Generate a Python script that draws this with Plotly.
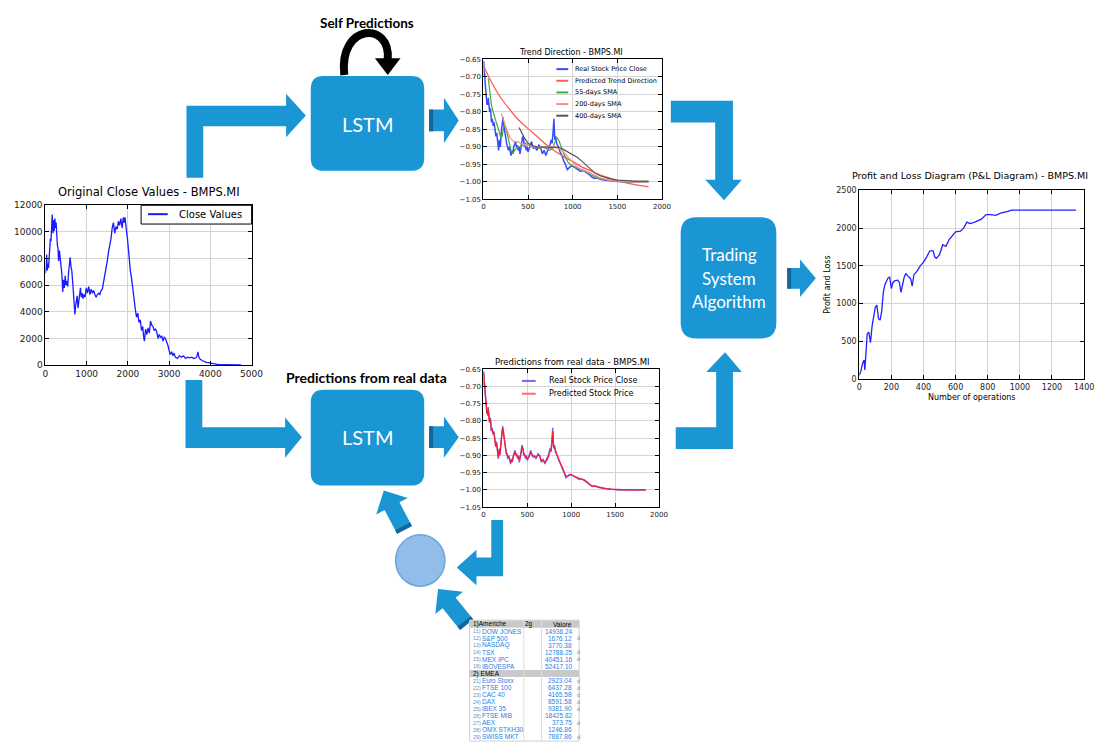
import plotly.graph_objects as go
import math

# ---------------- data ----------------
close_x = [0,15,30,45,60,75,90,105,120,135,150,165,175,185,200,215,230,245,260,275,290,305,320,340,360,380,400,420,440,460,480,500,520,540,560,580,600,620,640,660,680,700,715,730,750,770,790,810,830,850,870,890,910,930,960,990,1020,1050,1080,1110,1140,1170,1200,1230,1260,1290,1320,1350,1380,1410,1440,1470,1500,1530,1560,1590,1620,1650,1680,1710,1740,1770,1800,1830,1860,1890,1910,1930,1950,1970,1990,2010,2030,2060,2090,2120,2150,2180,2210,2240,2270,2300,2330,2360,2380,2400,2430,2460,2490,2520,2550,2580,2610,2640,2670,2700,2730,2760,2790,2820,2850,2880,2910,2940,2970,3000,3030,3060,3090,3120,3150,3200,3250,3300,3350,3400,3450,3500,3550,3600,3650,3680,3700,3720,3750,3800,3850,3900,3950,4000,4050,4100,4200,4300,4400,4500,4600,4750]
close_y = [6900,7300,8300,7100,7600,7300,8000,8600,9500,9300,10500,11300,10200,9900,10900,10100,11000,10300,10700,9600,9000,8800,7800,8600,7600,7400,6800,5500,6400,5800,6700,6000,6300,5900,6900,7800,8100,7400,7100,6300,5500,4800,3800,4400,5000,5200,4300,4700,5100,5800,5100,5400,5000,5300,5100,5800,5400,5900,5300,5700,5400,5600,5300,5100,5300,5400,5300,5600,5700,6200,6600,7200,7800,8500,8900,9500,10300,10700,9900,10400,10200,10800,10500,11000,10300,11100,10700,11100,10500,10100,9500,8800,8000,7100,6500,5600,4700,4200,3600,3900,3200,3400,2600,2900,2200,1800,2700,2300,2800,2400,3300,3000,2900,2600,2700,2500,2000,2300,2100,2200,1800,2100,2000,1800,1500,1100,800,1000,700,900,600,500,700,600,700,500,600,550,600,500,550,700,1000,600,450,350,250,200,180,150,100,60,40,30,25,20,15,10]

real_x = [0,5,10,15,20,25,30,35,40,45,50,55,60,70,80,90,100,110,120,130,140,150,160,170,180,190,200,210,220,230,240,250,260,270,280,290,300,310,320,330,340,350,360,370,380,390,400,410,420,430,440,450,460,470,480,490,500,520,540,560,580,600,620,640,660,680,700,720,740,760,770,780,790,800,810,820,840,860,880,900,920,940,960,980,1000,1030,1060,1090,1120,1150,1180,1210,1240,1270,1300,1350,1400,1450,1500,1550,1600,1650,1700,1750,1800,1850]
real_y = [-0.655,-0.66,-0.70,-0.69,-0.72,-0.74,-0.76,-0.75,-0.78,-0.77,-0.78,-0.76,-0.79,-0.80,-0.79,-0.83,-0.82,-0.84,-0.83,-0.86,-0.87,-0.86,-0.89,-0.91,-0.88,-0.90,-0.86,-0.83,-0.815,-0.84,-0.86,-0.88,-0.89,-0.90,-0.91,-0.90,-0.92,-0.925,-0.91,-0.92,-0.90,-0.89,-0.885,-0.90,-0.895,-0.91,-0.90,-0.92,-0.90,-0.89,-0.87,-0.88,-0.90,-0.895,-0.91,-0.90,-0.915,-0.90,-0.885,-0.905,-0.90,-0.91,-0.895,-0.90,-0.92,-0.91,-0.925,-0.91,-0.90,-0.88,-0.89,-0.86,-0.82,-0.88,-0.87,-0.89,-0.90,-0.915,-0.925,-0.94,-0.95,-0.965,-0.96,-0.955,-0.955,-0.96,-0.965,-0.97,-0.968,-0.972,-0.978,-0.985,-0.99,-0.988,-0.992,-0.995,-0.997,-0.998,-0.999,-1.0,-1.0,-1.0,-1.001,-1.001,-1.0,-1.0]
pred_y = [-0.66,-0.665,-0.695,-0.70,-0.715,-0.745,-0.755,-0.76,-0.775,-0.775,-0.785,-0.765,-0.785,-0.805,-0.795,-0.825,-0.825,-0.835,-0.835,-0.855,-0.875,-0.865,-0.885,-0.905,-0.885,-0.895,-0.865,-0.835,-0.82,-0.835,-0.855,-0.875,-0.895,-0.895,-0.905,-0.905,-0.915,-0.92,-0.915,-0.915,-0.905,-0.895,-0.89,-0.895,-0.90,-0.905,-0.905,-0.915,-0.905,-0.895,-0.875,-0.88,-0.895,-0.90,-0.905,-0.905,-0.91,-0.905,-0.89,-0.90,-0.905,-0.905,-0.90,-0.90,-0.915,-0.915,-0.92,-0.915,-0.905,-0.885,-0.885,-0.865,-0.83,-0.875,-0.875,-0.885,-0.90,-0.91,-0.925,-0.935,-0.95,-0.96,-0.96,-0.957,-0.956,-0.96,-0.963,-0.968,-0.969,-0.971,-0.977,-0.984,-0.989,-0.989,-0.991,-0.994,-0.996,-0.998,-0.999,-0.999,-1.0,-1.0,-1.0,-1.0,-1.0,-1.0]

trend_x = [0,100,200,300,400,500,600,700,800,900,1000,1100,1200,1300,1400,1500,1600,1700,1850]
trend_y = [-0.668,-0.72,-0.762,-0.795,-0.825,-0.848,-0.87,-0.893,-0.912,-0.928,-0.942,-0.957,-0.968,-0.979,-0.988,-0.996,-1.003,-1.008,-1.014]

sma55_x = [55,70,90,110,130,150,170,190,210,230,250,270,290,310,330,350,380,410,440,470,500,540,580,620,660,700,740,770,790,810,830,850,870,900,950,1000,1050,1100,1150,1200,1250,1300,1400,1500,1600,1700,1850]
sma55_y = [-0.705,-0.74,-0.78,-0.80,-0.82,-0.835,-0.85,-0.87,-0.87,-0.84,-0.845,-0.87,-0.89,-0.91,-0.92,-0.91,-0.90,-0.90,-0.895,-0.89,-0.895,-0.90,-0.90,-0.905,-0.90,-0.905,-0.91,-0.905,-0.895,-0.88,-0.875,-0.885,-0.90,-0.92,-0.945,-0.955,-0.96,-0.965,-0.97,-0.98,-0.986,-0.99,-0.995,-0.998,-1.0,-1.0,-1.0]

sma200_x = [200,230,260,300,340,380,420,460,500,560,620,680,740,800,850,900,950,1000,1050,1100,1150,1200,1300,1400,1500,1600,1700,1850]
sma200_y = [-0.805,-0.83,-0.85,-0.875,-0.885,-0.885,-0.89,-0.895,-0.895,-0.90,-0.90,-0.90,-0.90,-0.90,-0.905,-0.915,-0.93,-0.945,-0.958,-0.965,-0.97,-0.975,-0.988,-0.995,-0.998,-1.0,-1.0,-1.0]

sma400_x = [400,430,460,500,550,600,650,700,750,800,850,900,950,1000,1050,1100,1150,1200,1250,1300,1400,1500,1600,1700,1850]
sma400_y = [-0.845,-0.86,-0.875,-0.89,-0.897,-0.90,-0.90,-0.90,-0.90,-0.90,-0.902,-0.908,-0.915,-0.922,-0.93,-0.94,-0.952,-0.965,-0.975,-0.982,-0.99,-0.995,-0.997,-0.998,-0.998]

pnl_x = [0,10,20,30,35,40,50,60,70,80,90,100,110,120,130,140,150,160,170,180,190,200,210,220,240,250,260,280,290,300,320,330,340,360,380,400,420,440,460,470,480,500,520,540,560,580,600,630,650,670,690,720,760,790,820,850,880,920,950,1000,1100,1200,1350]
pnl_y = [50,100,200,250,120,300,600,620,480,700,820,950,980,800,780,900,1150,1250,1300,1340,1350,1200,1280,1300,1310,1280,1150,1350,1400,1370,1330,1230,1380,1430,1500,1550,1620,1700,1700,1620,1600,1650,1780,1760,1850,1900,1950,1960,2000,2080,2060,2080,2120,2180,2180,2170,2200,2220,2240,2240,2240,2240,2240]

ticks1_x = [0,1000,2000,3000,4000,5000]
ticks1_y = [0,2000,4000,6000,8000,10000,12000]
ticks2_x = [0,500,1000,1500,2000]
ticks2_y = [-1.05,-1.00,-0.95,-0.90,-0.85,-0.80,-0.75,-0.70,-0.65]
ticks4_x = [0,200,400,600,800,1000,1200,1400]
ticks4_y = [0,500,1000,1500,2000,2500]

tbl_am_names = ["DOW JONES","S&P 500","NASDAQ","TSX","MEX IPC","IBOVESPA"]
tbl_am_vals = ["14936.24","1676.12","3770.38","12788.25","40451.16","52417.10"]
tbl_am_d = ["","d","","d","d",""]
tbl_em_names = ["Euro Stoxx","FTSE 100","CAC 40","DAX","IBEX 35","FTSE MIB","AEX","OMX STKH30","SWISS MKT"]
tbl_em_vals = ["2923.04","6437.28","4165.58","8591.58","9381.90","18425.82","373.75","1246.86","7887.86"]
tbl_em_d = ["d","d","d","d","d","","d","","d"]

# ---------------- geometry helpers ----------------
W, H = 1105, 749
def fx(x): return x / W
def fy(y): return 1 - y / H
def pt(x, y): return f"{fx(x):.5f},{fy(y):.5f}"
def poly(pts): return "M " + " L ".join(pt(x, y) for x, y in pts) + " Z"
def rrect(x0, y0, x1, y1, r):
    return (f"M {pt(x0+r,y0)} L {pt(x1-r,y0)} Q {pt(x1,y0)} {pt(x1,y0+r)} "
            f"L {pt(x1,y1-r)} Q {pt(x1,y1)} {pt(x1-r,y1)} L {pt(x0+r,y1)} "
            f"Q {pt(x0,y1)} {pt(x0,y1-r)} L {pt(x0,y0+r)} Q {pt(x0,y0)} {pt(x0+r,y0)} Z")
def block_arrow(tail, tip, bw, hw, hl):
    dx, dy = tip[0]-tail[0], tip[1]-tail[1]
    L = math.hypot(dx, dy); ux, uy = dx/L, dy/L; nx, ny = -uy, ux
    bx, by = tip[0]-hl*ux, tip[1]-hl*uy
    pts = [(tail[0]+nx*bw/2, tail[1]+ny*bw/2), (bx+nx*bw/2, by+ny*bw/2),
           (bx+nx*hw/2, by+ny*hw/2), tip, (bx-nx*hw/2, by-ny*hw/2),
           (bx-nx*bw/2, by-ny*bw/2), (tail[0]-nx*bw/2, tail[1]-ny*bw/2)]
    return poly(pts)
def stripe(tail, tip, bw, t):
    dx, dy = tip[0]-tail[0], tip[1]-tail[1]
    L = math.hypot(dx, dy); ux, uy = dx/L, dy/L; nx, ny = -uy, ux
    e = (tail[0]+ux*t, tail[1]+uy*t)
    return poly([(tail[0]+nx*bw/2, tail[1]+ny*bw/2), (e[0]+nx*bw/2, e[1]+ny*bw/2),
                 (e[0]-nx*bw/2, e[1]-ny*bw/2), (tail[0]-nx*bw/2, tail[1]-ny*bw/2)])

BLUE = "#1b96d4"
DARK = "#12679a"
shapes, ann = [], []
def add_path(p, fill=BLUE, line=None, width=0):
    shapes.append(dict(type="path", path=p, xref="paper", yref="paper", fillcolor=fill,
                       line=dict(color=line or fill, width=width), layer="above"))
def text(x, y, s, size, color="black", family="DejaVu Sans", xanchor="center", bold=False, angle=0):
    if bold: s = f"<b>{s}</b>"
    ann.append(dict(x=fx(x), y=fy(y), xref="paper", yref="paper", text=s, showarrow=False,
                    xanchor=xanchor, yanchor="middle", textangle=angle,
                    font=dict(size=size, color=color, family=family)))

# ---------------- figure ----------------
fig = go.Figure()
fig.add_trace(go.Scatter(x=close_x, y=close_y, mode="lines", line=dict(color="#1a1aff", width=1.3), xaxis="x", yaxis="y"))
fig.add_trace(go.Scatter(x=real_x, y=real_y, mode="lines", line=dict(color="#3a4bff", width=1.5), xaxis="x2", yaxis="y2"))
fig.add_trace(go.Scatter(x=trend_x, y=trend_y, mode="lines", line=dict(color="#ff5a5a", width=1.3, shape="spline"), xaxis="x2", yaxis="y2"))
fig.add_trace(go.Scatter(x=sma55_x, y=sma55_y, mode="lines", line=dict(color="#3fae3f", width=1.2), xaxis="x2", yaxis="y2"))
fig.add_trace(go.Scatter(x=sma200_x, y=sma200_y, mode="lines", line=dict(color="#ff8a8a", width=1.2), xaxis="x2", yaxis="y2"))
fig.add_trace(go.Scatter(x=sma400_x, y=sma400_y, mode="lines", line=dict(color="#555555", width=1.2), xaxis="x2", yaxis="y2"))
fig.add_trace(go.Scatter(x=real_x, y=real_y, mode="lines", line=dict(color="#6a6aff", width=1.4), xaxis="x3", yaxis="y3"))
fig.add_trace(go.Scatter(x=real_x, y=pred_y, mode="lines", line=dict(color="#ff1a2a", width=1.3), xaxis="x3", yaxis="y3"))
fig.add_trace(go.Scatter(x=pnl_x, y=pnl_y, mode="lines", line=dict(color="#2020ff", width=1.3), xaxis="x4", yaxis="y4"))

def axis(dom, rng, tv, fs, anchor, fmt=None):
    d = dict(domain=dom, range=rng, tickvals=tv, anchor=anchor, showline=True, linecolor="black",
             linewidth=1, mirror="ticks", ticks="inside", ticklen=4, tickcolor="black",
             showgrid=True, gridcolor="#d4d4d4", gridwidth=1, zeroline=False,
             tickfont=dict(size=fs, color="#222", family="DejaVu Sans"))
    if fmt: d["tickformat"] = fmt
    return d

lay = dict(width=W, height=H, margin=dict(l=0, r=0, t=0, b=0), paper_bgcolor="white",
           plot_bgcolor="white", showlegend=False)
lay["xaxis"] = axis([fx(43), fx(252)], [0, 5000], ticks1_x, 9, "y", "d")
lay["yaxis"] = axis([fy(365), fy(203)], [0, 12000], ticks1_y, 9, "x", "d")
lay["xaxis2"] = axis([fx(487), fx(668)], [0, 2000], ticks2_x, 7, "y2", "d")
lay["yaxis2"] = axis([fy(197), fy(55)], [-1.05, -0.65], ticks2_y, 7, "x2", ".2f")
lay["xaxis3"] = axis([fx(487), fx(665)], [0, 2000], ticks2_x, 7, "y3", "d")
lay["yaxis3"] = axis([fy(509), fy(369)], [-1.05, -0.65], ticks2_y, 7, "x3", ".2f")
lay["xaxis4"] = axis([fx(868), fx(1096)], [0, 1400], ticks4_x, 8, "y4", "d")
lay["yaxis4"] = axis([fy(379), fy(188)], [0, 2500], ticks4_y, 8, "x4", "d")

# chart titles / labels
text(148, 190, "Original Close Values - BMPS.MI", 11.5)
text(576, 48, "Trend Direction - BMPS.MI", 8)
text(577, 362, "Predictions from real data - BMPS.MI", 8.5)
text(980, 173, "Profit and Loss Diagram (P&L Diagram) - BMPS.MI", 9.5)
text(982, 398, "Number of operations", 8)
text(836, 283, "Profit and Loss", 8, angle=-90)

# chart 1 legend
shapes.append(dict(type="rect", xref="paper", yref="paper", x0=fx(140), x1=fx(252), y0=fy(222), y1=fy(203),
                   fillcolor="white", line=dict(color="black", width=1)))
shapes.append(dict(type="line", xref="paper", yref="paper", x0=fx(147), x1=fx(167), y0=fy(212), y1=fy(212),
                   line=dict(color="#1a1aff", width=2)))
text(176, 212, "Close Values", 10, xanchor="left")

# chart 2 legend
leg2 = [("Real Stock Price Close", "#3a4bff"), ("Predicted Trend Direction", "#ff5a5a"),
        ("55-days SMA", "#3fae3f"), ("200-days SMA", "#ff8a8a"), ("400-days SMA", "#555555")]
for i, (lab, col) in enumerate(leg2):
    y = 65 + i * 11.8
    shapes.append(dict(type="line", xref="paper", yref="paper", x0=fx(561), x1=fx(573), y0=fy(y), y1=fy(y),
                       line=dict(color=col, width=2)))
    text(578, y, lab, 6.5, xanchor="left")
# chart 3 legend
for i, (lab, col) in enumerate([("Real Stock Price Close", "#6a6aff"), ("Predicted Stock Price", "#ff6a6a")]):
    y = 381 + i * 13
    shapes.append(dict(type="line", xref="paper", yref="paper", x0=fx(526), x1=fx(540), y0=fy(y), y1=fy(y),
                       line=dict(color=col, width=2)))
    text(551, y, lab, 8, xanchor="left")

# ---------------- diagram ----------------
add_path(rrect(312, 72, 427, 168, 13))
add_path(rrect(312, 390, 427, 487, 13))
add_path(rrect(687, 215, 784, 338, 16))
text(370, 121, "LSTM", 20, color="white", family="Lato")
text(370, 438, "LSTM", 20, color="white", family="Lato")
text(736, 253, "Trading", 17, color="white", family="Lato")
text(736, 277, "System", 17, color="white", family="Lato")
text(736, 301, "Algorithm", 17, color="white", family="Lato")
text(369, 18, "Self Predictions", 13.5, family="Lato", bold=True)
text(369, 378, "Predictions from real data", 14, family="Lato", bold=True)

# L-shaped arrows
add_path(poly([(186,175),(186,102),(287,102),(287,90),(307,112),(287,134),(287,123),(203,123),(203,175)]))
add_path(poly([(185,380),(202,380),(202,428),(286,428),(286,418),(303,438),(286,459),(286,449),(185,449)]))
add_path(poly([(677,97),(740,97),(740,177),(749,177),(731,198),(712,177),(722,177),(722,119),(677,119)]))
add_path(poly([(732,352),(749,372),(740,372),(740,450),(682,450),(682,428),(723,428),(723,372),(713,372)]))
add_path(poly([(507,522),(507,579),(480,579),(480,588),(460,570),(480,552),(480,560),(495,560),(495,522)]))

# straight arrows
for tail, tip, bw, hw, hl in [((432,117),(462,117),22,46,15), ((432,438),(462,438),22,42,15),
                              ((795,277),(824,277),21,38,16), ((407,532),(386,492),17,36,18),
                              ((470,628),(441,592),17,36,18)]:
    add_path(block_arrow(tail, tip, bw, hw, hl))
    add_path(stripe(tail, tip, bw, 4), fill=DARK)

# circle
shapes.append(dict(type="circle", xref="paper", yref="paper", x0=fx(398), x1=fx(448), y0=fy(589), y1=fy(537),
                   fillcolor="#92bde8", line=dict(color="#6aa6dc", width=1.5)))

# curved self-prediction arrow
shapes.append(dict(type="path", xref="paper", yref="paper",
                   path=f"M {pt(346,71)} C {pt(340,18)} {pt(394,16)} {pt(390,56)}",
                   line=dict(color="black", width=8), fillcolor="rgba(0,0,0,0)"))
add_path(poly([(377,54),(403,54),(390,71)]), fill="black")

# ---------------- market table ----------------
tx0, tx1 = 473, 584
shapes.append(dict(type="rect", xref="paper", yref="paper", x0=fx(tx0), x1=fx(tx1), y0=fy(746), y1=fy(623.5),
                   fillcolor="white", line=dict(color="#cfcfcf", width=1)))
row0, dy = 627.5, 7.15
for hdr in (0, 7):
    yc = row0 + hdr * dy
    shapes.append(dict(type="rect", xref="paper", yref="paper", x0=fx(tx0), x1=fx(tx1),
                       y0=fy(yc + 3.6), y1=fy(yc - 3.6), fillcolor="#c9c9c9", line=dict(width=0)))
for xv in (528, 546):
    shapes.append(dict(type="line", xref="paper", yref="paper", x0=fx(xv), x1=fx(xv), y0=fy(746), y1=fy(623.5),
                       line=dict(color="#dddddd", width=1)))
TF = "Liberation Sans"
text(474, row0, "1)Americhe", 6.5, xanchor="left", family=TF)
text(533, row0, "2g", 6.5, family=TF)
text(567, row0, "Valore", 6.5, family=TF)
text(474, row0 + 7 * dy, "2) EMEA", 6.5, xanchor="left", family=TF)
rows = [(f"1{i+1})", n, v, d) for i, (n, v, d) in enumerate(zip(tbl_am_names, tbl_am_vals, tbl_am_d))]
rows2 = [(f"2{i+1})", n, v, d) for i, (n, v, d) in enumerate(zip(tbl_em_names, tbl_em_vals, tbl_em_d))]
for k, r in enumerate(rows + rows2):
    y = row0 + (k + 1 + (1 if k >= len(rows) else 0)) * dy
    text(474, y, r[0], 5.5, color="#6a8fc0", xanchor="left", family=TF)
    text(484, y, r[1], 6.5, color="#1e7fe6", xanchor="left", family=TF)
    text(579, y, r[2], 6.5, color="#1e7fe6", xanchor="right", family=TF)
    if r[3]:
        text(579.5, y, r[3], 5.5, color="#888", xanchor="left", family=TF)

lay["shapes"] = shapes
lay["annotations"] = ann
fig.update_layout(**lay)
fig.write_html("out.html", config={"displayModeBar": False},
               post_script="document.body.style.margin='0';document.body.style.overflow='hidden';")
